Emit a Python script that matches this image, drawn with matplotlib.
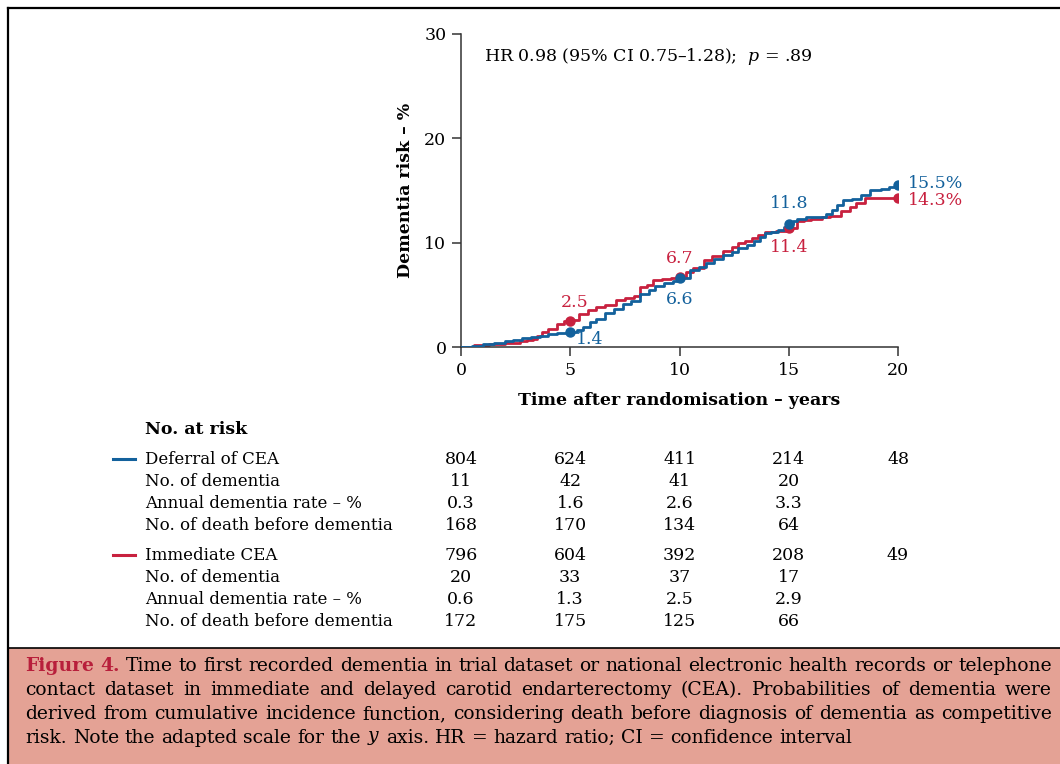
import matplotlib
matplotlib.use("Agg")
import matplotlib.pyplot as plt
import matplotlib.transforms as mtransforms
from matplotlib.lines import Line2D
from matplotlib.patches import Rectangle

plt.rcParams['font.family'] = ['DejaVu Serif']
plt.rcParams['mathtext.fontset'] = 'dejavuserif'

BLUE = '#13619c'
RED = '#c8213f'
CAPTION_BG = '#e4a295'

# Cumulative incidence curves (years, %)
blue_t = [0, 0.5, 1.0, 1.5, 2.0, 2.4, 2.8, 3.2, 3.6, 4.0, 4.4, 5.0, 5.3, 5.6, 5.9,
          6.2, 6.6, 7.0, 7.4, 7.8, 8.2, 8.6, 8.9, 9.3, 9.7, 10.0, 10.5, 10.9, 11.2,
          11.6, 12.0, 12.4, 12.7, 13.1, 13.4, 13.7, 13.9, 14.2, 14.5, 14.8, 15.0,
          15.2, 15.4, 15.8, 16.3, 16.7, 17.0, 17.2, 17.5, 17.9, 18.3, 18.7, 19.2,
          19.6, 20.0]
blue_v = [0, 0.12, 0.25, 0.35, 0.55, 0.65, 0.85, 0.95, 1.1, 1.2, 1.3, 1.4, 1.6, 1.95,
          2.35, 2.7, 3.3, 3.6, 4.1, 4.4, 5.1, 5.5, 5.85, 6.1, 6.35, 6.6, 7.35, 7.7,
          8.05, 8.45, 8.85, 9.1, 9.5, 9.8, 10.15, 10.5, 10.9, 11.0, 11.25, 11.5, 11.8,
          12.1, 12.3, 12.45, 12.5, 12.75, 13.1, 13.6, 14.05, 14.2, 14.6, 15.05, 15.1,
          15.3, 15.5]

red_t = [0, 0.6, 1.3, 2.0, 2.7, 3.0, 3.3, 3.5, 3.7, 4.0, 4.4, 4.7, 5.0, 5.4, 5.8, 6.2,
         6.6, 7.1, 7.5, 7.9, 8.2, 8.5, 8.8, 9.2, 9.6, 10.0, 10.3, 10.6, 11.1, 11.5,
         12.0, 12.4, 12.7, 13.0, 13.3, 13.6, 13.9, 14.4, 15.0, 15.4, 15.7, 16.0, 16.5,
         16.9, 17.4, 17.8, 18.1, 18.5, 20.0]
red_v = [0, 0.15, 0.3, 0.4, 0.55, 0.65, 0.8, 1.1, 1.4, 1.75, 2.2, 2.45, 2.55, 3.2, 3.5,
         3.8, 4.0, 4.5, 4.7, 4.85, 5.75, 5.95, 6.4, 6.5, 6.6, 6.7, 7.2, 7.6, 8.3, 8.7,
         9.2, 9.6, 10.0, 10.2, 10.4, 10.7, 11.0, 11.1, 11.45, 12.1, 12.2, 12.3, 12.5,
         12.6, 13.0, 13.4, 13.8, 14.3, 14.3]

mark_t = [5, 10, 15, 20]
blue_mark = [1.4, 6.6, 11.8, 15.5]
red_mark = [2.5, 6.7, 11.4, 14.3]

# No. at risk table
table_t = [0, 5, 10, 15, 20]
row_labels = ['No. of dementia', 'Annual dementia rate – %', 'No. of death before dementia']
deferral_risk = ['804', '624', '411', '214', '48']
deferral_dem = ['11', '42', '41', '20']
deferral_rate = ['0.3', '1.6', '2.6', '3.3']
deferral_death = ['168', '170', '134', '64']
immediate_risk = ['796', '604', '392', '208', '49']
immediate_dem = ['20', '33', '37', '17']
immediate_rate = ['0.6', '1.3', '2.5', '2.9']
immediate_death = ['172', '175', '125', '66']

caption_lines = [
    "Time to first recorded dementia in trial dataset or national electronic health records or telephone",
    "contact dataset in immediate and delayed carotid endarterectomy (CEA). Probabilities of dementia were",
    "derived from cumulative incidence function, considering death before diagnosis of dementia as competitive",
    "risk. Note the adapted scale for the $y$ axis. HR = hazard ratio; CI = confidence interval",
]

W, H = 1060, 764
fig = plt.figure(figsize=(W / 100, H / 100), dpi=100)


def fx(px):
    return px / W


def fy(py):
    return 1 - py / H


# frame and caption box
fig.patches.append(Rectangle((fx(8), 0), 1, fy(648), transform=fig.transFigure,
                             facecolor=CAPTION_BG, edgecolor='none', zorder=0))
fig.lines.append(Line2D([fx(8), 1], [fy(8), fy(8)], transform=fig.transFigure, color='black', lw=1.6))
fig.lines.append(Line2D([fx(8), fx(8)], [0, fy(8)], transform=fig.transFigure, color='black', lw=1.6))
fig.lines.append(Line2D([fx(8), 1], [fy(648), fy(648)], transform=fig.transFigure, color='black', lw=1.2))

ax = fig.add_axes([fx(461), fy(347), fx(898) - fx(461), fy(34) - fy(347)])
ax.plot(blue_t, blue_v, drawstyle='steps-post', color=BLUE, lw=2, zorder=3)
ax.plot(red_t, red_v, drawstyle='steps-post', color=RED, lw=2, zorder=2)
ax.plot(mark_t, red_mark, 'o', color=RED, ms=6.5, zorder=4)
ax.plot(mark_t, blue_mark, 'o', color=BLUE, ms=6.5, zorder=5)

ax.set_xlim(0, 20)
ax.set_ylim(0, 30)
ax.set_xticks([0, 5, 10, 15, 20])
ax.set_yticks([0, 10, 20, 30])
ax.spines[['top', 'right']].set_visible(False)
for s in ['left', 'bottom']:
    ax.spines[s].set_color('#333333')
    ax.spines[s].set_linewidth(1.1)
ax.tick_params(direction='out', length=6.5, width=1.1, color='#333333', labelsize=12.5, pad=4)
ax.set_xlabel('Time after randomisation – years', fontsize=12.5, fontweight='bold')
ax.set_ylabel('Dementia risk – %', fontsize=12.5, fontweight='bold')
ax.xaxis.set_label_coords(0.5, -0.17)
ax.xaxis.label.set_va('center')
ax.yaxis.set_label_coords(-0.128, 0.5)
ax.yaxis.label.set_va('center')

ax.text(1.05, 27.8, 'HR 0.98 (95% CI 0.75–1.28);  $p$ = .89', fontsize=12.5, va='center', ha='left')

lab = dict(fontsize=12.5, va='center')
ax.text(5.2, 4.3, '2.5', color=RED, ha='center', **lab)
ax.text(5.9, 0.75, '1.4', color=BLUE, ha='center', **lab)
ax.text(10.0, 8.5, '6.7', color=RED, ha='center', **lab)
ax.text(10.0, 4.6, '6.6', color=BLUE, ha='center', **lab)
ax.text(15.0, 13.75, '11.8', color=BLUE, ha='center', **lab)
ax.text(15.0, 9.55, '11.4', color=RED, ha='center', **lab)
ax.text(20.45, 15.7, '15.5%', color=BLUE, ha='left', **lab)
ax.text(20.45, 14.0, '14.3%', color=RED, ha='left', **lab)
for t in ax.texts:
    t.set_clip_on(False)

# table under the plot
trans = mtransforms.blended_transform_factory(ax.transData, fig.transFigure)
fs = 12.5
fig.text(fx(145), fy(430), 'No. at risk', fontsize=fs, fontweight='bold', va='center')

groups = [
    ('Deferral of CEA', BLUE, 459, [deferral_risk, deferral_dem, deferral_rate, deferral_death]),
    ('Immediate CEA', RED, 555, [immediate_risk, immediate_dem, immediate_rate, immediate_death]),
]
for name, col, y0, rows in groups:
    fig.lines.append(Line2D([fx(113), fx(135)], [fy(y0), fy(y0)], transform=fig.transFigure,
                            color=col, lw=2.2))
    labels = [name] + row_labels
    for i, (label, vals) in enumerate(zip(labels, rows)):
        y = fy(y0 + 22 * i)
        fig.text(fx(145), y, label, fontsize=12, va='center')
        for t, v in zip(table_t, vals):
            fig.text(t, y, v, fontsize=fs, va='center', ha='center', transform=trans)

# justified caption
renderer = fig.canvas.get_renderer()
cap_fs = 13.5


def caption_line(words, y, x0, x1, justify):
    texts = []
    for w, kw in words:
        texts.append(fig.text(0, fy(y), w, fontsize=cap_fs, va='center', ha='left', **kw))
    widths = [t.get_window_extent(renderer).width for t in texts]
    if justify and len(texts) > 1:
        gap = (x1 - x0 - sum(widths)) / (len(texts) - 1)
    else:
        gap = cap_fs * 100 / 72 * 0.32
    x = x0
    for t, w in zip(texts, widths):
        t.set_x(fx(x))
        x += w + gap


red_bold = dict(color='#b81f3b', fontweight='bold')
for i, line in enumerate(caption_lines):
    words = [(w, {}) for w in line.split(' ')]
    if i == 0:
        words = [('Figure', red_bold), ('4.', red_bold)] + words
    caption_line(words, 666 + 24 * i, 25, 1052, i < len(caption_lines) - 1)

fig.savefig('out.png', dpi=100)
